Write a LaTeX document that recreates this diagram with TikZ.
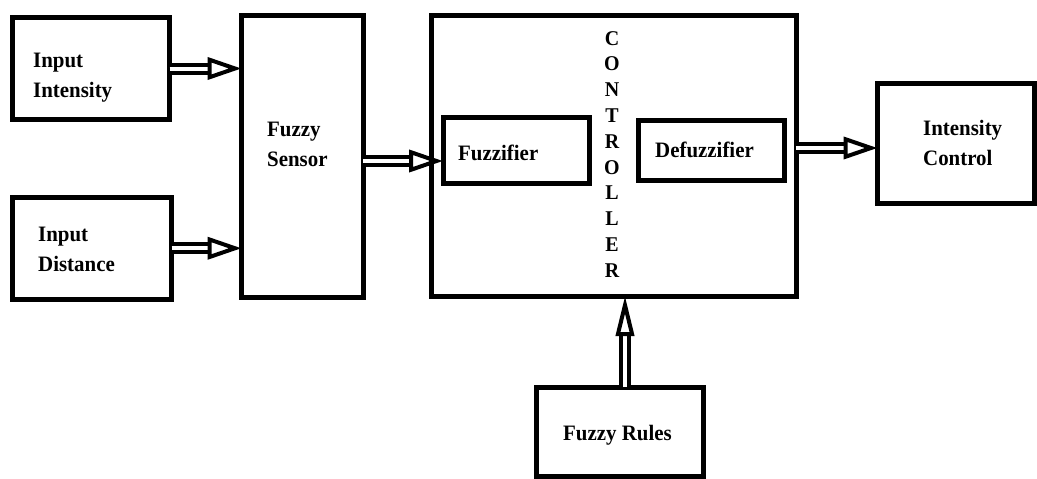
\documentclass[tikz,border=0pt]{standalone}
\usepackage{fontspec}
\setmainfont[FakeStretch=0.95]{Liberation Serif}
\usetikzlibrary{arrows.meta}
\begin{document}
\begin{tikzpicture}[x=1pt,y=-1pt,
  box/.style={draw, line width=5pt, inner sep=0pt, outer sep=0pt},
  lbl/.style={inner sep=0pt, anchor=north west, align=left, font=\bfseries\fontsize{22}{30}\selectfont},
  dbl/.style={double, double distance=4pt, line width=4pt, -{Triangle[open, length=34pt, width=22pt, line width=4pt]}}]
\useasboundingbox (0,0) rectangle (1037,479);
% boxes
\node[box, minimum width=157pt, minimum height=102pt] (ii) at (91,68.5) {};
\node[box, minimum width=159pt, minimum height=101.5pt] (id) at (92,248.25) {};
\node[box, minimum width=121.5pt, minimum height=282pt] (fs) at (302.25,156) {};
\node[box, minimum width=365pt, minimum height=281pt] (ctl) at (613.5,155.5) {};
\node[box, minimum width=146pt, minimum height=66pt] (fz) at (516,150) {};
\node[box, minimum width=146.5pt, minimum height=60pt] (dfz) at (711.25,150) {};
\node[box, minimum width=156.5pt, minimum height=120pt] (ic) at (955.75,143) {};
\node[box, minimum width=167pt, minimum height=89pt] (fr) at (619.5,431.5) {};
% labels
\node[lbl] (tii) at (33,53) {Input\\Intensity};
\node[lbl] (tid) at (38,227) {Input\\Distance};
\node[lbl] (tfs) at (267,122) {Fuzzy\\Sensor};
\node[lbl] (tfz) at (458,145) {Fuzzifier};
\node[lbl] (tdfz) at (655,142) {Defuzzifier};
\node[lbl] (tic) at (923,120) {Intensity\\Control};
\node[lbl] (tfr) at (563,425) {Fuzzy Rules};
\node[inner sep=0pt, anchor=north, align=center, font=\bfseries\fontsize{21}{25.8}\selectfont] (tctl) at (612,31) {C\\O\\N\\T\\R\\O\\L\\L\\E\\R};
% connector helpers
\coordinate (a3) at (0,161);
\coordinate (a4) at (0,148);
\coordinate (a5) at (625,0);
% connectors
\draw[dbl] (ii.east) -- (ii.east -| fs.west);
\draw[dbl] (id.east) -- (id.east -| fs.west);
\draw[dbl] (fs.east |- a3) -- (fz.west |- a3);
\draw[dbl] (ctl.east |- a4) -- (ic.west |- a4);
\draw[dbl, -{Triangle[open, length=40pt, width=18pt, line width=4pt]}] (fr.north -| a5) -- (ctl.south -| a5);
\end{tikzpicture}
\end{document}
